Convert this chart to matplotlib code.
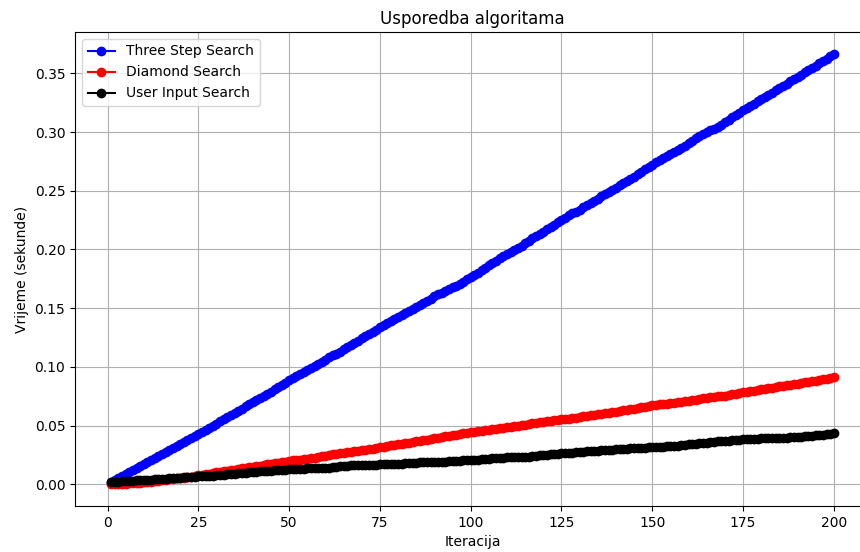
import numpy as np
import matplotlib
matplotlib.use("Agg")
from matplotlib import pyplot as plt

# iteracije 1..200
iteracije = list(range(1, 201))

three_step = [
    0.0020, 0.0036, 0.0052, 0.0071, 0.0087, 0.0102, 0.0121, 0.0138, 0.0154, 0.0172,
    0.0188, 0.0205, 0.0224, 0.0240, 0.0256, 0.0275, 0.0291, 0.0308, 0.0326, 0.0342,
    0.0360, 0.0377, 0.0393, 0.0412, 0.0430, 0.0446, 0.0465, 0.0482, 0.0498, 0.0517,
    0.0537, 0.0555, 0.0572, 0.0590, 0.0610, 0.0627, 0.0644, 0.0664, 0.0681, 0.0699,
    0.0718, 0.0737, 0.0754, 0.0771, 0.0791, 0.0810, 0.0828, 0.0846, 0.0866, 0.0886,
    0.0903, 0.0922, 0.0940, 0.0957, 0.0973, 0.0990, 0.1008, 0.1026, 0.1045, 0.1063,
    0.1082, 0.1099, 0.1114, 0.1131, 0.1150, 0.1170, 0.1189, 0.1207, 0.1225, 0.1243,
    0.1262, 0.1280, 0.1299, 0.1319, 0.1340, 0.1356, 0.1374, 0.1391, 0.1408, 0.1424,
    0.1442, 0.1460, 0.1477, 0.1494, 0.1512, 0.1530, 0.1547, 0.1564, 0.1582, 0.1600,
    0.1617, 0.1633, 0.1648, 0.1663, 0.1678, 0.1693, 0.1708, 0.1725, 0.1745, 0.1765,
    0.1785, 0.1804, 0.1823, 0.1843, 0.1864, 0.1884, 0.1905, 0.1925, 0.1944, 0.1962,
    0.1978, 0.1995, 0.2014, 0.2034, 0.2055, 0.2075, 0.2094, 0.2113, 0.2133, 0.2152,
    0.2172, 0.2192, 0.2212, 0.2232, 0.2252, 0.2272, 0.2290, 0.2307, 0.2323, 0.2340,
    0.2358, 0.2377, 0.2396, 0.2414, 0.2432, 0.2452, 0.2471, 0.2490, 0.2508, 0.2526,
    0.2545, 0.2564, 0.2583, 0.2602, 0.2621, 0.2641, 0.2661, 0.2681, 0.2701, 0.2722,
    0.2742, 0.2762, 0.2780, 0.2797, 0.2812, 0.2828, 0.2846, 0.2864, 0.2884, 0.2904,
    0.2925, 0.2945, 0.2964, 0.2982, 0.2998, 0.3013, 0.3028, 0.3045, 0.3064, 0.3084,
    0.3105, 0.3126, 0.3146, 0.3165, 0.3184, 0.3203, 0.3222, 0.3242, 0.3261, 0.3280,
    0.3299, 0.3317, 0.3336, 0.3355, 0.3374, 0.3394, 0.3413, 0.3432, 0.3451, 0.3470,
    0.3489, 0.3509, 0.3528, 0.3547, 0.3566, 0.3585, 0.3604, 0.3624, 0.3646, 0.3668,
]

diamond = [
    0.0000, 0.0002, 0.0004, 0.0006, 0.0008, 0.0010, 0.0012, 0.0014, 0.0016, 0.0019,
    0.0022, 0.0025, 0.0028, 0.0031, 0.0035, 0.0039, 0.0043, 0.0047, 0.0051, 0.0055,
    0.0059, 0.0063, 0.0067, 0.0072, 0.0077, 0.0082, 0.0087, 0.0092, 0.0097, 0.0102,
    0.0107, 0.0112, 0.0117, 0.0122, 0.0127, 0.0132, 0.0137, 0.0142, 0.0146, 0.0150,
    0.0155, 0.0160, 0.0165, 0.0170, 0.0175, 0.0180, 0.0185, 0.0190, 0.0195, 0.0200,
    0.0204, 0.0208, 0.0212, 0.0216, 0.0220, 0.0224, 0.0228, 0.0233, 0.0238, 0.0243,
    0.0249, 0.0255, 0.0261, 0.0266, 0.0270, 0.0274, 0.0278, 0.0282, 0.0286, 0.0290,
    0.0295, 0.0300, 0.0305, 0.0311, 0.0317, 0.0322, 0.0327, 0.0332, 0.0337, 0.0342,
    0.0347, 0.0352, 0.0357, 0.0362, 0.0367, 0.0372, 0.0377, 0.0382, 0.0388, 0.0394,
    0.0399, 0.0404, 0.0409, 0.0414, 0.0419, 0.0424, 0.0429, 0.0434, 0.0438, 0.0443,
    0.0447, 0.0451, 0.0455, 0.0460, 0.0465, 0.0469, 0.0473, 0.0478, 0.0483, 0.0488,
    0.0492, 0.0496, 0.0500, 0.0505, 0.0510, 0.0515, 0.0520, 0.0525, 0.0529, 0.0533,
    0.0537, 0.0541, 0.0545, 0.0549, 0.0553, 0.0557, 0.0561, 0.0565, 0.0569, 0.0574,
    0.0579, 0.0584, 0.0589, 0.0594, 0.0599, 0.0603, 0.0607, 0.0611, 0.0615, 0.0620,
    0.0625, 0.0630, 0.0635, 0.0640, 0.0645, 0.0651, 0.0657, 0.0662, 0.0667, 0.0673,
    0.0677, 0.0681, 0.0685, 0.0689, 0.0693, 0.0697, 0.0701, 0.0705, 0.0709, 0.0713,
    0.0717, 0.0722, 0.0727, 0.0732, 0.0737, 0.0741, 0.0745, 0.0749, 0.0753, 0.0757,
    0.0762, 0.0767, 0.0772, 0.0778, 0.0784, 0.0789, 0.0794, 0.0799, 0.0804, 0.0809,
    0.0814, 0.0819, 0.0824, 0.0829, 0.0834, 0.0839, 0.0844, 0.0849, 0.0854, 0.0859,
    0.0864, 0.0869, 0.0874, 0.0879, 0.0884, 0.0889, 0.0894, 0.0899, 0.0905, 0.0911,
]

user_input = [
    0.0020, 0.0022, 0.0024, 0.0026, 0.0028, 0.0030, 0.0032, 0.0034, 0.0036, 0.0038,
    0.0040, 0.0042, 0.0044, 0.0046, 0.0048, 0.0050, 0.0052, 0.0054, 0.0056, 0.0058,
    0.0060, 0.0062, 0.0064, 0.0066, 0.0068, 0.0070, 0.0072, 0.0074, 0.0076, 0.0078,
    0.0080, 0.0083, 0.0086, 0.0089, 0.0092, 0.0095, 0.0098, 0.0101, 0.0104, 0.0107,
    0.0109, 0.0111, 0.0113, 0.0115, 0.0117, 0.0119, 0.0121, 0.0123, 0.0125, 0.0128,
    0.0130, 0.0132, 0.0134, 0.0135, 0.0136, 0.0137, 0.0138, 0.0139, 0.0140, 0.0141,
    0.0143, 0.0147, 0.0152, 0.0156, 0.0159, 0.0161, 0.0162, 0.0163, 0.0164, 0.0165,
    0.0166, 0.0167, 0.0168, 0.0169, 0.0170, 0.0171, 0.0172, 0.0173, 0.0174, 0.0176,
    0.0178, 0.0180, 0.0182, 0.0184, 0.0186, 0.0188, 0.0189, 0.0190, 0.0191, 0.0192,
    0.0193, 0.0194, 0.0195, 0.0197, 0.0199, 0.0201, 0.0203, 0.0204, 0.0205, 0.0206,
    0.0208, 0.0211, 0.0215, 0.0218, 0.0220, 0.0222, 0.0224, 0.0226, 0.0228, 0.0230,
    0.0231, 0.0232, 0.0233, 0.0234, 0.0235, 0.0237, 0.0241, 0.0245, 0.0248, 0.0251,
    0.0254, 0.0256, 0.0258, 0.0261, 0.0264, 0.0266, 0.0268, 0.0270, 0.0273, 0.0276,
    0.0279, 0.0282, 0.0285, 0.0287, 0.0289, 0.0291, 0.0293, 0.0295, 0.0297, 0.0299,
    0.0301, 0.0303, 0.0305, 0.0307, 0.0309, 0.0311, 0.0313, 0.0314, 0.0315, 0.0317,
    0.0319, 0.0321, 0.0323, 0.0325, 0.0327, 0.0329, 0.0331, 0.0335, 0.0339, 0.0343,
    0.0345, 0.0347, 0.0349, 0.0351, 0.0354, 0.0359, 0.0364, 0.0367, 0.0369, 0.0371,
    0.0373, 0.0375, 0.0377, 0.0380, 0.0383, 0.0385, 0.0387, 0.0389, 0.0391, 0.0392,
    0.0393, 0.0394, 0.0395, 0.0396, 0.0397, 0.0398, 0.0399, 0.0400, 0.0401, 0.0402,
    0.0405, 0.0409, 0.0412, 0.0415, 0.0418, 0.0421, 0.0424, 0.0427, 0.0430, 0.0434,
]

fig = plt.figure(figsize=(8.6, 5.52), dpi=100)
ax = fig.add_axes([75 / 860, 46 / 552, 795 / 860, 474 / 552])

ax.plot(iteracije, three_step, marker='o', color='blue', label='Three Step Search')
ax.plot(iteracije, diamond, marker='o', color='red', label='Diamond Search')
ax.plot(iteracije, user_input, marker='o', color='black', label='User Input Search')

ax.set_title('Usporedba algoritama')
ax.set_xlabel('Iteracija')
ax.set_ylabel('Vrijeme (sekunde)')
ax.legend(loc='upper left')
ax.grid(True)

fig.savefig('out.png', dpi=100)
